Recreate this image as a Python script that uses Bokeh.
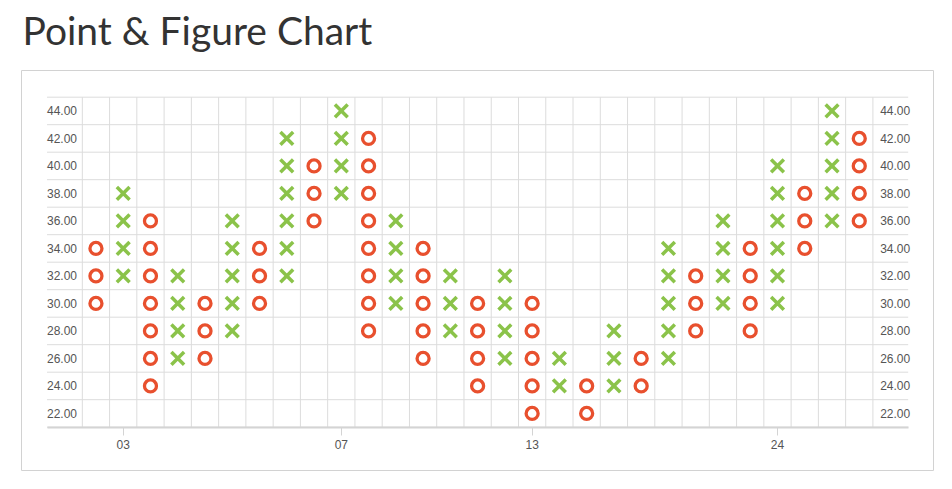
from bokeh.plotting import figure
from bokeh.models import Range1d, FixedTicker
from bokeh.core.properties import value
from bokeh.embed import file_html
from bokeh.resources import INLINE

# ---- data ----
col_types = ["O", "X", "O", "X", "O", "X", "O", "X", "O", "X",
             "O", "X", "O", "X", "O", "X", "O", "X", "O", "X",
             "O", "X", "O", "X", "O", "X", "O", "X", "O"]
col_low = [30, 32, 24, 26, 26, 28, 30, 32, 36, 38,
           28, 30, 26, 28, 24, 26, 22, 24, 22, 24,
           24, 26, 28, 30, 28, 30, 34, 36, 36]
col_high = [34, 38, 36, 32, 30, 36, 34, 42, 40, 44,
            42, 36, 34, 32, 30, 32, 30, 26, 24, 28,
            26, 34, 32, 36, 34, 40, 38, 44, 42]
box_size = 2
price_ticks = [22, 24, 26, 28, 30, 32, 34, 36, 38, 40, 42, 44]
date_tick_cols = [2, 10, 17, 26]
date_tick_labels = ["03", "07", "13", "24"]
title_text = "Point & Figure Chart"

# expand columns into boxes
xs_x, ys_x, xs_o, ys_o = [], [], [], []
for i, (t, lo, hi) in enumerate(zip(col_types, col_low, col_high)):
    col = i + 1
    v = lo
    while v <= hi:
        if t == "X":
            xs_x.append(col); ys_x.append(v)
        else:
            xs_o.append(col); ys_o.append(v)
        v += box_size

n_cols = len(col_types)
grid_lo = min(price_ticks) - box_size / 2
grid_hi = max(price_ticks) + box_size / 2
label_pad = 1.295          # columns of room for the price labels
x_start, x_end = 0.5 - 2.231, n_cols + 0.5 + 2.223
y_start, y_end = grid_lo - 3.149, grid_hi + 1.942
line_lo, line_hi = 0.5 - label_pad, n_cols + 0.5 + label_pad

shift = 11
W, H = 940, 491
p = figure(width=W, height=H, output_backend="svg", toolbar_location=None,
           x_range=Range1d(x_start, x_end), y_range=Range1d(y_start, y_end),
           min_border_left=21, min_border_right=7, min_border_top=70 + shift,
           min_border_bottom=10, y_axis_location=None, title=title_text)
p.margin = (-shift, 0, 0, 0)
p.outline_line_color = "#d2d2d2"
p.outline_line_width = 1
p.background_fill_color = "white"
p.border_fill_color = "white"
p.grid.visible = False

p.title.text_font = "Lato"
p.title.text_font_size = "39px"
p.title.text_font_style = "normal"
p.title.text_color = "#333333"
p.title.align = "left"
p.title.vertical_align = "top"
p.title.offset = 1
p.title.standoff = 31

grid_color = "#dcdcdc"
vx = [c + 0.5 for c in range(0, n_cols + 1)]
p.segment(x0=vx, y0=[grid_lo] * len(vx), x1=vx, y1=[grid_hi] * len(vx),
          line_color=grid_color, line_width=1)
hy = [t - box_size / 2 for t in price_ticks] + [grid_hi]
p.segment(x0=[line_lo] * len(hy), y0=hy, x1=[line_hi] * len(hy), y1=hy,
          line_color=grid_color, line_width=1)

ax = p.xaxis[0]
ax.fixed_location = grid_lo
ax.bounds = (line_lo, line_hi)
ax.ticker = FixedTicker(ticks=date_tick_cols)
ax.major_label_overrides = {c: l for c, l in zip(date_tick_cols, date_tick_labels)}
ax.axis_line_color = "#d4d4d4"
ax.axis_line_width = 2
ax.major_tick_line_color = "#d4d4d4"
ax.major_tick_in = 0
ax.major_tick_out = 8
ax.minor_tick_line_color = None
ax.major_label_standoff = 5
ax.major_label_text_font = "Liberation Sans"
ax.major_label_text_font_size = "12px"
ax.major_label_text_color = "#555555"

# price labels inside the grid area on both sides
lab = ["%.2f" % v for v in price_ticks]
p.text(x=[line_lo] * len(price_ticks), y=price_ticks, text=lab,
       text_align="left", text_baseline="middle",
       text_font=value("Liberation Sans"), text_font_size="12px", text_color="#555555")
p.text(x=[line_hi] * len(price_ticks), y=price_ticks, text=lab,
       text_align="right", text_baseline="middle", x_offset=2,
       text_font=value("Liberation Sans"), text_font_size="12px", text_color="#555555")

p.scatter(xs_x, ys_x, marker="x", size=18, line_width=3.5, line_color="#8bc34a")
p.scatter(xs_o, ys_o, marker="circle", size=12, line_width=3.3,
          line_color="#e8502e", fill_color=None)

open("out.html", "w").write(file_html(p, INLINE))
